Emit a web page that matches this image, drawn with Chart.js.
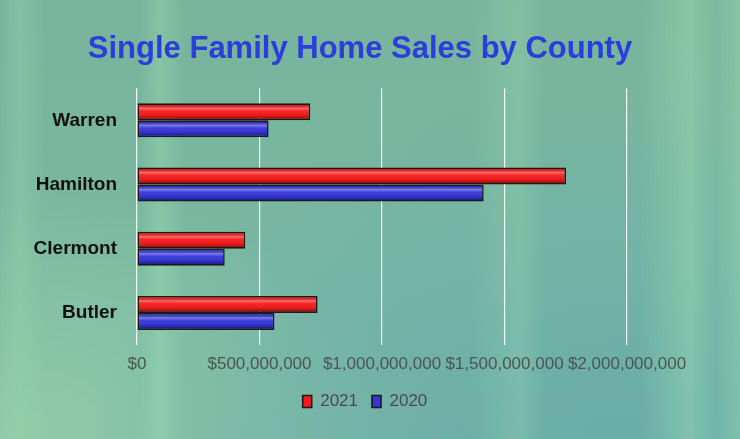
<!DOCTYPE html>
<html>
<head>
<meta charset="utf-8">
<script src="https://cdn.jsdelivr.net/npm/chart.js@4/dist/chart.umd.min.js"></script>
<style>
html,body{margin:0;padding:0;}
body{width:740px;height:439px;overflow:hidden;
background:
 linear-gradient(to right,
   rgba(150,215,170,0) 0px, rgba(150,215,170,0.35) 20px, rgba(150,215,170,0) 45px,
   rgba(150,215,170,0) 140px, rgba(160,225,180,0.35) 160px, rgba(160,225,180,0) 185px,
   rgba(150,215,170,0) 470px, rgba(160,225,180,0.25) 520px, rgba(160,225,180,0) 545px,
   rgba(150,215,170,0) 640px, rgba(160,225,180,0.4) 690px, rgba(160,225,180,0.1) 715px, rgba(160,225,180,0.35) 740px),
 radial-gradient(ellipse at 85% 100%, rgba(100,170,170,0.7) 0%, rgba(100,170,170,0) 60%),
 radial-gradient(ellipse at 0% 100%, rgba(160,220,170,0.6) 0%, rgba(160,220,170,0) 40%),
 linear-gradient(to bottom, #78b49c 0%, #7ab8a2 60%, #78b4a6 100%);
}
#wrap{position:relative;width:740px;height:439px;}
</style>
</head>
<body>
<div id="wrap"><canvas id="c"></canvas></div>
<script>
const categories = ["Warren", "Hamilton", "Clermont", "Butler"];
const sales2021 = [707000000, 1751000000, 442000000, 737000000];
const sales2020 = [537000000, 1415000000, 358000000, 561000000];
const seriesLabels = ["2021", "2020"];
const tickMin = 0, tickMax = 2000000000, tickStep = 500000000;

const bevel = {
  id: 'bevel',
  afterDatasetsDraw(chart) {
    const ctx = chart.ctx;
    chart.data.datasets.forEach((ds, i) => {
      const meta = chart.getDatasetMeta(i);
      meta.data.forEach(el => {
        const p = el.getProps(['x','y','base','height'], true);
        const left = Math.min(p.x, p.base) + 1.5, right = Math.max(p.x, p.base) - 1.5;
        const top = p.y - p.height/2 + 1.5, bot = p.y + p.height/2 - 1.5;
        const g = ctx.createLinearGradient(0, top, 0, bot);
        g.addColorStop(0, 'rgba(0,0,0,0.12)');
        g.addColorStop(0.25, 'rgba(255,255,255,0.35)');
        g.addColorStop(0.45, 'rgba(255,255,255,0.05)');
        g.addColorStop(0.8, 'rgba(0,0,0,0.1)');
        g.addColorStop(1, 'rgba(0,0,0,0.4)');
        ctx.save();
        ctx.fillStyle = g;
        ctx.fillRect(left, top, right - left, bot - top);
        ctx.restore();
      });
    });
  }
};

// center title and legend on the whole canvas width (not only the padded area)
const recenter = {
  id: 'recenter',
  afterLayout(chart) {
    if (chart.titleBlock) { chart.titleBlock.left = 0; chart.titleBlock.right = 720; }
    if (chart.legend) { chart.legend.left = 0; chart.legend.right = 730; }
  }
};

new Chart(document.getElementById('c'), {
  type: 'bar',
  data: {
    labels: categories,
    datasets: [
      {label: seriesLabels[0], data: sales2021, backgroundColor: '#f81a1a', borderColor: '#1a1a1a', borderWidth: 1.6, borderSkipped: false},
      {label: seriesLabels[1], data: sales2020, backgroundColor: '#3434d8', borderColor: '#1a1a1a', borderWidth: 1.6, borderSkipped: false}
    ]
  },
  plugins: [bevel, recenter],
  options: {
    indexAxis: 'y',
    responsive: true,
    maintainAspectRatio: false,
    animation: false,
    devicePixelRatio: 1,
    categoryPercentage: 0.53,
    barPercentage: 1.0,
    layout: {padding: {top: 31, right: 113, bottom: 19, left: 0}},
    plugins: {
      title: {
        display: true,
        text: 'Single Family Home Sales by County',
        color: '#2a3edc',
        font: {family: '"Liberation Sans", Arial, sans-serif', size: 31, weight: 'bold'},
        padding: {top: 0, bottom: 20}
      },
      legend: {
        position: 'bottom',
        labels: {
          boxWidth: 9, boxHeight: 12, padding: 14,
          color: '#4a4a4a',
          font: {family: '"Liberation Sans", Arial, sans-serif', size: 17}
        }
      },
      tooltip: {enabled: false}
    },
    scales: {
      x: {
        min: tickMin, max: tickMax,
        grid: {color: 'rgba(255,255,255,0.9)', lineWidth: 1.2, drawTicks: false},
        border: {display: false},
        afterFit: s => { s.height = 34; },
        ticks: {
          stepSize: tickStep, autoSkip: false, maxRotation: 0, padding: 9,
          color: '#4c5550',
          font: {family: '"Liberation Sans", Arial, sans-serif', size: 17},
          callback: v => '$' + Number(v).toLocaleString('en-US')
        }
      },
      y: {
        grid: {display: false},
        border: {display: false},
        afterFit: s => { s.width = 137; },
        ticks: {
          padding: 12,
          color: '#111',
          font: {family: '"Liberation Sans", Arial, sans-serif', size: 19, weight: 'bold'}
        }
      }
    }
  }
});
</script>
</body>
</html>
